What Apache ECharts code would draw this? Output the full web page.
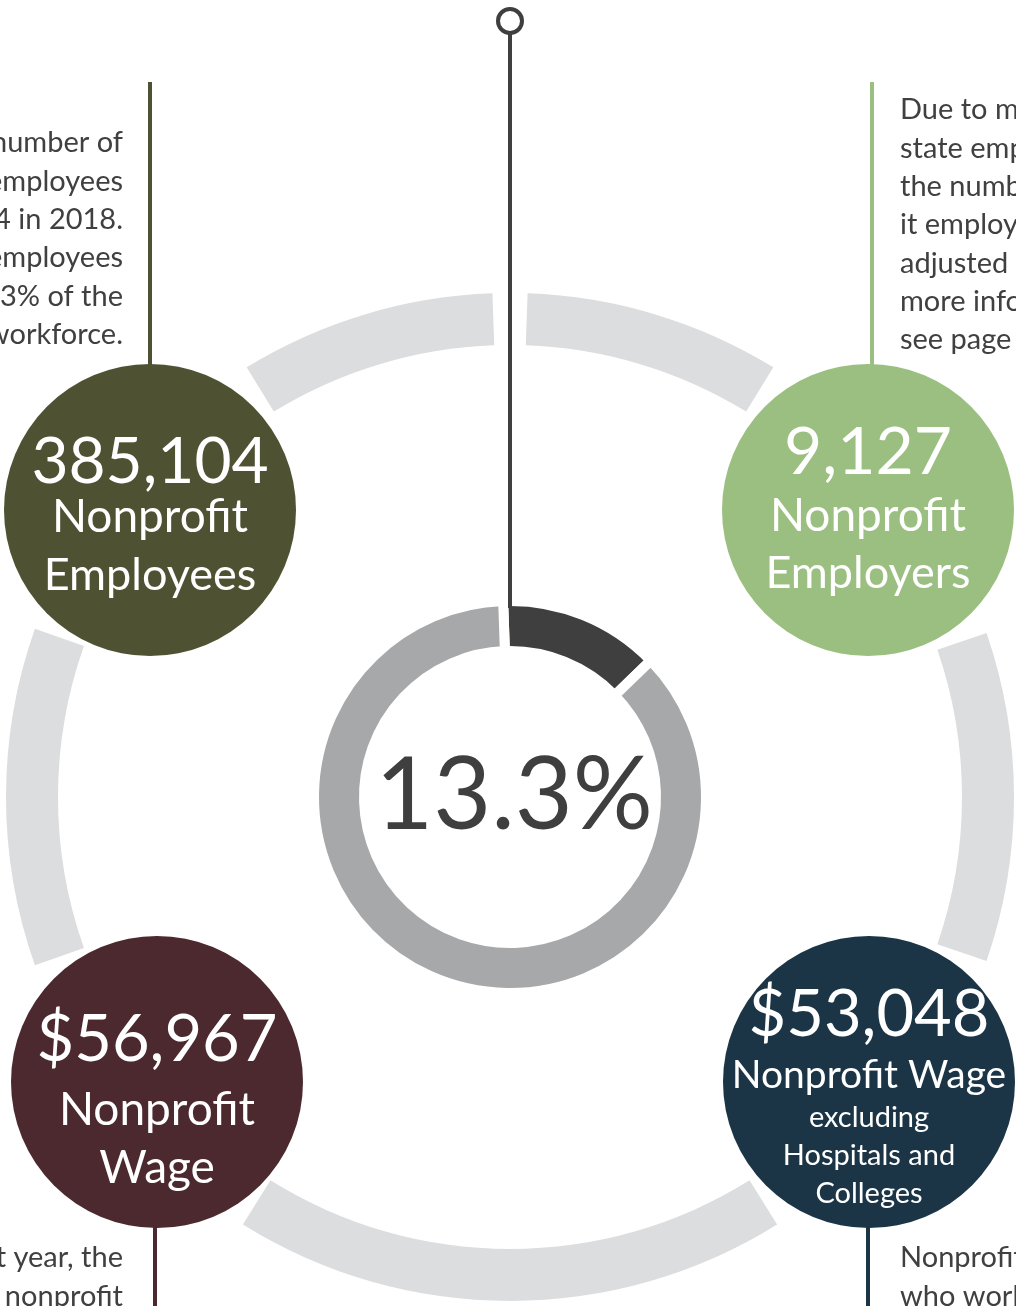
<!DOCTYPE html>
<html><head><meta charset="utf-8">
<script src="https://cdn.jsdelivr.net/npm/echarts@6/dist/echarts.min.js"></script>
<style>html,body{margin:0;padding:0;background:#fff}#c{width:1016px;height:1306px}</style>
</head><body><div id="c"></div>
<script>
// ---- data ----
const shareNames = ['Nonprofit share of workforce', 'Rest of workforce'];
const shareValues = [13.3, 86.7];
const statValues = ['385,104', '9,127', '$56,967', '$53,048'];
const statLabels = [
  ['Nonprofit', 'Employees'],
  ['Nonprofit', 'Employers'],
  ['Nonprofit', 'Wage'],
  ['Nonprofit Wage', 'excluding', 'Hospitals and', 'Colleges']
];
const noteTopLeft = ['The number of', 'nonprofit employees', 'was 385,104 in 2018.', 'Nonprofit employees', 'made up 13.3% of the', "state's workforce."];
const noteTopRight = ['Due to multi-site', 'state employers,', 'the number of sites', 'it employs has been', 'adjusted in 2018. For', 'more information,', 'see page 4.'];
const noteBottomLeft = ['In the past year, the', 'average nonprofit'];
const noteBottomRight = ['Nonprofit employees', 'who work in'];

// ---- layout / style ----
const FONT = 'Lato, "Open Sans", sans-serif';
const TXT = '#404040';
const CX = 510, CY = 797;
const circleSpec = [
  {center: [150, 510], color: '#4f5232', spacer: 20,
   sizes: [[64, 52], [46, 58], [45, 58]]},
  {center: [868, 510], color: '#9bbf80', spacer: 0,
   sizes: [[66, 68], [46, 58], [45, 56]]},
  {center: [157, 1082], color: '#4b292e', spacer: 32,
   sizes: [[65, 82], [46, 58], [46, 58]]},
  {center: [869, 1082], color: '#1b3546', spacer: 28,
   sizes: [[65, 72], [39, 48], [29, 38], [29, 38], [29, 38]]}
];
// ring arcs (degrees, clockwise from 12 o'clock), gaps are transparent
const ringParts = [2, 29.5, 39.5, 38, 39, 64, 38.5, 39, 39, 29.5, 2];

const series = [];
series.push({
  type: 'pie', silent: true, animation: false, z: 1,
  center: [CX, CY], radius: [452, 504], startAngle: 90, clockwise: true,
  label: {show: false}, labelLine: {show: false}, emphasis: {disabled: true},
  data: ringParts.map((v, i) => ({value: v, itemStyle: {color: i % 2 ? '#dcdddf' : 'rgba(0,0,0,0)'}}))
});
series.push({
  type: 'pie', silent: true, animation: false, z: 2,
  center: [CX, CY], radius: [146, 196], startAngle: 92, clockwise: true,
  itemStyle: {borderColor: '#fff', borderWidth: 10},
  labelLine: {show: false}, emphasis: {disabled: true},
  data: shareValues.map((v, i) => ({
    name: shareNames[i], value: v,
    itemStyle: {color: i === 0 ? '#3f3f3f' : '#a7a8aa'},
    label: i === 0 ? {show: true, position: 'center', formatter: '{c}%', color: '#3f3f3f',
      fontFamily: FONT, fontSize: 100, fontWeight: 'normal', offset: [4, 0]} : {show: false}
  }))
});
circleSpec.forEach((c, k) => {
  const rich = {sp: {fontSize: 2, lineHeight: c.spacer || 1}};
  const lines = [statValues[k]].concat(statLabels[k]);
  lines.forEach((t, j) => {
    rich['r' + j] = {fontSize: c.sizes[j][0], lineHeight: c.sizes[j][1], color: '#fff', fontFamily: FONT};
  });
  let str = lines.map((t, j) => '{r' + j + '|' + t + '}').join('\n');
  if (c.spacer) str = '{sp| }\n' + str;
  series.push({
    type: 'pie', silent: true, animation: false, z: 3,
    center: c.center, radius: [0, 146],
    labelLine: {show: false}, emphasis: {disabled: true},
    itemStyle: {color: c.color},
    label: {show: true, position: 'center', formatter: () => str, rich: rich, align: 'center'},
    data: [{name: statValues[k], value: 1}]
  });
});

const graphics = [];
function vline(x, y1, y2, color) {
  graphics.push({type: 'line', z: 100, silent: true, shape: {x1: x, y1: y1, x2: x, y2: y2}, style: {stroke: color, lineWidth: 4}});
}
vline(150, 82, 380, '#4f5232');
vline(872, 82, 380, '#9bbf80');
vline(155, 1220, 1306, '#4b292e');
vline(868, 1220, 1306, '#1b3546');
vline(510, 33, 608, '#3f3f3f');
graphics.push({type: 'circle', z: 101, silent: true, shape: {cx: 510, cy: 21, r: 12}, style: {fill: '#fff', stroke: '#3f3f3f', lineWidth: 4}});
function para(lines, x, y0, align) {
  lines.forEach((t, i) => graphics.push({type: 'text', z: 100, silent: true,
    style: {text: t, x: x, y: y0 + i * 38.3, fill: TXT, font: '29px ' + FONT, align: align, verticalAlign: 'middle', textAlign: align, textVerticalAlign: 'middle'}}));
}
para(noteTopLeft, 123, 143, 'right');
para(noteTopRight, 900, 110, 'left');
para(noteBottomLeft, 123, 1258, 'right');
para(noteBottomRight, 900, 1258, 'left');

const chart = echarts.init(document.getElementById('c'), null, {renderer: 'canvas'});
chart.setOption({backgroundColor: '#fff', animation: false, series: series, graphic: graphics});
</script></body></html>
